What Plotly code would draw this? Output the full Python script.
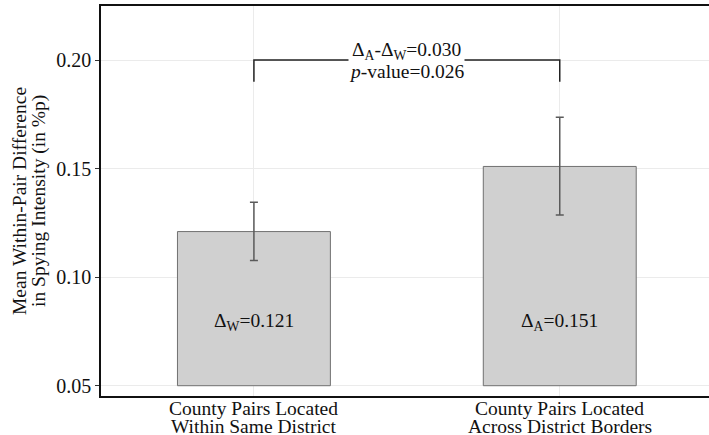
import plotly.graph_objects as go

cat_line1 = ["County Pairs Located", "County Pairs Located"]
cat_line2 = ["Within Same District", "Across District Borders"]
means = [0.121, 0.151]
err_upper = [0.0135, 0.0226]
err_lower = [0.0133, 0.0224]
bar_labels = ["Δ<sub>W</sub>=0.121", "Δ<sub>A</sub>=0.151"]
label_y = 0.0795
base_value = 0.05
bracket_top = 0.20
bracket_leg = 0.19
diff_line1 = "Δ<sub>A</sub>-Δ<sub>W</sub>=0.030"
diff_line2 = "<i>p</i>-value=0.026"
y_title_lines = ["Mean Within-Pair Difference", "in Spying Intensity (in %p)"]
y_ticks = [0.05, 0.10, 0.15, 0.20]
y_tick_text = ["0.05", "0.10", "0.15", "0.20"]

FONT = "Liberation Serif, Times New Roman, Times, serif"
FS = 19.5
TXT = "#111111"
x_idx = list(range(len(cat_line1)))

fig = go.Figure()
fig.add_trace(go.Bar(
    x=x_idx, y=[m - base_value for m in means], base=base_value,
    width=0.5,
    marker=dict(color="#d0d0d0", line=dict(color="#707070", width=1)),
    error_y=dict(type="data", symmetric=False, array=err_upper, arrayminus=err_lower,
                 color="#5a5a5a", thickness=1.5, width=4),
    showlegend=False, hoverinfo="skip",
))
fig.add_trace(go.Scatter(
    x=[x_idx[0], x_idx[0], x_idx[1], x_idx[1]],
    y=[bracket_leg, bracket_top, bracket_top, bracket_leg],
    mode="lines", line=dict(color="#222222", width=1.5),
    showlegend=False, hoverinfo="skip",
))
for i, t in enumerate(bar_labels):
    fig.add_annotation(x=x_idx[i], y=label_y, text=t, showarrow=False,
                       font=dict(family=FONT, size=FS, color=TXT))
mid = (x_idx[0] + x_idx[1]) / 2
fig.add_annotation(x=mid, y=bracket_top, text=diff_line1, showarrow=False,
                   bgcolor="white", borderpad=3, yshift=9,
                   font=dict(family=FONT, size=FS, color=TXT))
fig.add_annotation(x=mid, y=bracket_top, text=diff_line2, showarrow=False,
                   borderpad=0, yshift=-11,
                   font=dict(family=FONT, size=FS, color=TXT))
# category labels (two tight lines)
for i in x_idx:
    fig.add_annotation(x=i, y=0, yref="paper", text=cat_line1[i], showarrow=False,
                       yanchor="middle", yshift=-12,
                       font=dict(family=FONT, size=FS, color=TXT))
    fig.add_annotation(x=i, y=0, yref="paper", text=cat_line2[i], showarrow=False,
                       yanchor="middle", yshift=-30,
                       font=dict(family=FONT, size=FS, color=TXT))
# y-axis title (two tight lines)
for k, t in enumerate(y_title_lines):
    fig.add_annotation(x=0, xref="paper", y=0.5, yref="paper", text=t, showarrow=False,
                       textangle=-90, xanchor="center", yanchor="middle",
                       xshift=-82 + 20 * k,
                       font=dict(family=FONT, size=FS, color=TXT))

fig.update_layout(
    width=709, height=435,
    margin=dict(l=101, r=0, t=6, b=39),
    plot_bgcolor="white", paper_bgcolor="white",
    font=dict(family=FONT, size=FS, color=TXT),
)
fig.update_xaxes(
    range=[-0.5, 1.488], tickvals=x_idx, showticklabels=False,
    showgrid=True, gridcolor="#ebebeb", gridwidth=1,
    showline=True, linecolor="#111111", linewidth=1.5, mirror=True,
    ticks="", zeroline=False,
)
fig.update_yaxes(
    range=[0.04526, 0.2249], tickvals=y_ticks, ticktext=y_tick_text,
    showgrid=True, gridcolor="#ebebeb", gridwidth=1,
    showline=True, linecolor="#111111", linewidth=1.5,
    ticks="outside", ticklen=4, tickcolor="#333333",
    tickfont=dict(family=FONT, size=20, color=TXT),
    zeroline=False,
)
fig.write_html("out.html", config={"displayModeBar": False},
               post_script="document.body.style.margin='0';document.body.style.overflow='hidden';")
